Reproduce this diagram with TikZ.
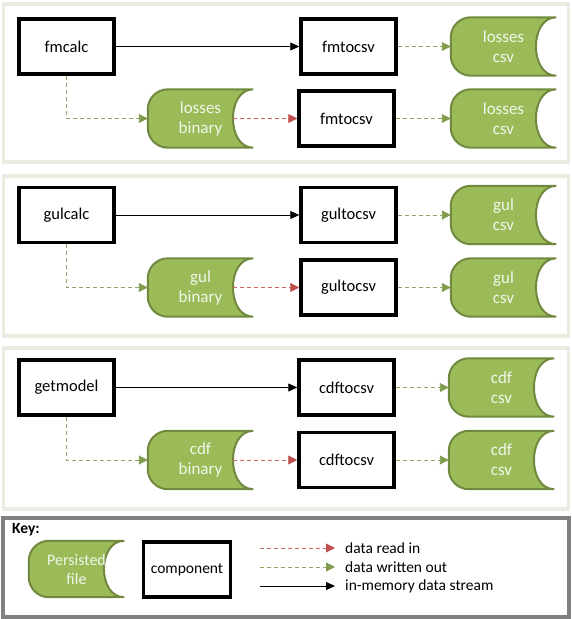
\documentclass[tikz,border=0pt]{standalone}
\usepackage{fontspec}
\setmainfont{Carlito}
\usetikzlibrary{arrows.meta,calc}
\pgfdeclarelayer{bg}
\pgfsetlayers{bg,main}
\definecolor{pfill}{HTML}{9BBB59}
\definecolor{pdraw}{HTML}{71893F}
\definecolor{ptext}{HTML}{F2F6EA}
\definecolor{wline}{HTML}{8FA36A}
\definecolor{wtip}{HTML}{7F9B4C}
\definecolor{rline}{HTML}{CB6562}
\definecolor{rtip}{HTML}{C0504D}
\definecolor{panelc}{HTML}{ECEAE1}
\definecolor{keyb}{HTML}{808080}
\tikzset{
  comp/.style={draw=black, line width=3.5pt, minimum width=95pt, minimum height=55pt, inner sep=0pt, font=\fontsize{16.5}{19}\selectfont},
  pfilebox/.style={minimum width=105pt, minimum height=58pt, inner sep=0pt, align=center, text=ptext, font=\fontsize{17}{20}\selectfont},
  pfileshape/.style={fill=pfill, draw=pdraw, line width=2pt},
  stream/.style={draw=black, line width=0.8pt, -{Triangle[length=9pt,width=8pt]}},
  writeout/.style={draw=wline, line width=0.9pt, dash pattern=on 4pt off 3pt, -{Triangle[length=9pt,width=9pt,color=wtip]}},
  readin/.style={draw=rline, line width=0.9pt, dash pattern=on 4pt off 3pt, -{Triangle[length=9pt,width=9pt,color=rtip]}},
  panelbox/.style={draw=panelc, line width=3.5pt},
  keybox/.style={draw=keyb, line width=3.5pt},
  keytext/.style={anchor=west, inner sep=0pt, font=\fontsize{15.5}{18}\selectfont},
}
\newcommand\pfile[4][]{%
  \node[pfilebox,#1] (#2) at (#3) {#4};
  \coordinate (#2-n) at ($(#2.east)+(-20,0)$);
  \begin{pgfonlayer}{bg}
  \path[pfileshape] (#2.north east)
     .. controls ($(#2.north east)+(-27,0)$) and ($(#2.south east)+(-27,0)$) .. (#2.south east)
     -- ($(#2.south west)+(20,0)$)
     .. controls ($(#2.south west)+(9,0)$) and ($(#2.south west)+(0,-9)$) .. ($(#2.south west)+(0,-20)$)
     -- ($(#2.north west)+(0,20)$)
     .. controls ($(#2.north west)+(0,9)$) and ($(#2.north west)+(9,0)$) .. ($(#2.north west)+(20,0)$)
     -- cycle;
  \end{pgfonlayer}
}
\begin{document}
\begin{tikzpicture}[x=1pt,y=-1pt]
\useasboundingbox (0,0) rectangle (572,619);
% panels
\draw[panelbox] (3.5,4) rectangle (568.5,162);
\draw[panelbox] (3.5,176) rectangle (568.5,336);
\draw[panelbox] (3.5,348) rectangle (568.5,509);
\draw[keybox] (3,518) rectangle (569,617);

% panel 1
\node[comp] (fmcalc) at (66.5,46.5) {fmcalc};
\node[comp] (fmtocsvA) at (348.5,46.5) {fmtocsv};
\pfile{fmcsvA}{503.5,46.5}{losses\\csv}
\pfile{fmbin}{200.5,118.5}{losses\\binary}
\node[comp] (fmtocsvB) at (346.5,118.5) {fmtocsv};
\pfile{fmcsvB}{503.5,118.5}{losses\\csv}
\draw[stream] (fmcalc.east) -- (fmtocsvA.west);
\draw[writeout] (fmtocsvA.east) -- (fmcsvA.west);
\draw[writeout] (fmcalc.south) |- (fmbin.west);
\draw[readin] (fmbin-n) -- (fmtocsvB.west);
\draw[writeout] (fmtocsvB.east) -- (fmcsvB.west);

% panel 2
\node[comp] (gulcalc) at (66.5,215) {gulcalc};
\node[comp] (gultocsvA) at (348.5,215) {gultocsv};
\pfile{gulcsvA}{503.5,215}{gul\\csv}
\pfile{gulbin}{200.5,287.5}{gul\\binary}
\node[comp] (gultocsvB) at (348.5,287.5) {gultocsv};
\pfile{gulcsvB}{503.5,287.5}{gul\\csv}
\draw[stream] (gulcalc.east) -- (gultocsvA.west);
\draw[writeout] (gultocsvA.east) -- (gulcsvA.west);
\draw[writeout] (gulcalc.south) |- (gulbin.west);
\draw[readin] (gulbin-n) -- (gultocsvB.west);
\draw[writeout] (gultocsvB.east) -- (gulcsvB.west);

% panel 3
\node[comp] (getmodel) at (66.5,387.5) {getmodel};
\node[comp] (cdftocsvA) at (346.5,387.5) {cdftocsv};
\pfile{cdfcsvA}{501.5,387.5}{cdf\\csv}
\pfile{cdfbin}{200.5,460}{cdf\\binary}
\node[comp] (cdftocsvB) at (346.5,460) {cdftocsv};
\pfile{cdfcsvB}{501.5,460}{cdf\\csv}
\draw[stream] (getmodel.east) -- (cdftocsvA.west);
\draw[writeout] (cdftocsvA.east) -- (cdfcsvA.west);
\draw[writeout] (getmodel.south) |- (cdfbin.west);
\draw[readin] (cdfbin-n) -- (cdftocsvB.west);
\draw[writeout] (cdftocsvB.east) -- (cdfcsvB.west);

% key
\node[keytext, font=\fontsize{15.5}{18}\selectfont\bfseries] (keyt) at (12,530) {Key:};
\pfile[minimum width=95pt, minimum height=56pt, font=\fontsize{16}{19}\selectfont]{keyfile}{76.5,569}{Persisted\\file}
\node[comp, minimum width=87pt, font=\fontsize{15.5}{19}\selectfont] (keycomp) at (187,569.5) {component};
\coordinate (ra) at (260,548);
\coordinate (rb) at (335,548);
\coordinate (wa) at (260,567);
\coordinate (wb) at (335,567);
\coordinate (sa) at (260,586);
\coordinate (sb) at (335,586);
\draw[readin] (ra) -- (rb);
\draw[writeout] (wa) -- (wb);
\draw[stream] (sa) -- (sb);
\node[keytext] (tr) at (345,548) {data read in};
\node[keytext] (tw) at (345,567) {data written out};
\node[keytext] (ts) at (345,586) {in-memory data stream};
\end{tikzpicture}
\end{document}
